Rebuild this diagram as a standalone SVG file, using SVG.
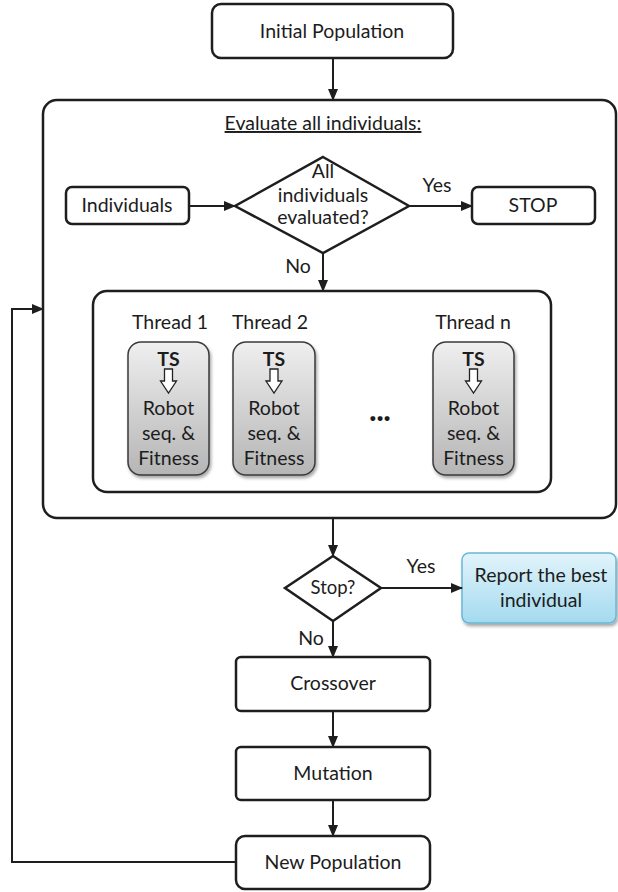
<svg xmlns="http://www.w3.org/2000/svg" width="618" height="892" viewBox="0 0 618 892">
<style>
  .box { fill: #ffffff; stroke: #1e1e1e; stroke-width: 2.5; }
  .t { font-family: Lato, "Open Sans", sans-serif; font-size: 19.5px; fill: #1c1c1c; text-anchor: middle; }
  .b { font-weight: bold; }
  .dots { font-size: 30px; font-weight: 900; }
  .small { font-size: 18.5px; }
  .conn { fill: none; stroke: #1e1e1e; stroke-width: 2; }
  .card { fill: url(#gray); stroke: #3a3a3a; stroke-width: 1.5; filter: url(#shadow); }
  .hollow { fill: #ffffff; stroke: #222222; stroke-width: 1.3; stroke-linejoin: miter; }
</style>
<defs>
  <marker id="ah" markerUnits="userSpaceOnUse" markerWidth="12" markerHeight="10" refX="11" refY="5" orient="auto">
    <path d="M0,0 L12,5 L0,10 Z" fill="#1e1e1e"/>
  </marker>
  <linearGradient id="gray" x1="0" y1="0" x2="0" y2="1">
    <stop offset="0" stop-color="#efefef"/>
    <stop offset="1" stop-color="#b5b5b5"/>
  </linearGradient>
  <linearGradient id="blue" x1="0" y1="0" x2="0" y2="1">
    <stop offset="0" stop-color="#e2f4fb"/>
    <stop offset="1" stop-color="#a3daef"/>
  </linearGradient>
  <filter id="shadow" x="-20%" y="-20%" width="150%" height="150%">
    <feDropShadow dx="1.5" dy="2.5" stdDeviation="1.8" flood-color="#000000" flood-opacity="0.35"/>
  </filter>
</defs>

<g id="initial-population">
  <rect class="box" x="212" y="4" width="241" height="54" rx="9"/>
  <text class="t" x="332" y="38">Initial Population</text>
</g>

<g id="evaluate-all">
  <rect class="box" x="43" y="100" width="573" height="418" rx="14"/>
  <text class="t" x="323" y="130" text-decoration="underline">Evaluate all individuals:</text>
</g>

<g id="individuals">
  <rect class="box" x="66" y="187" width="123" height="37" rx="6"/>
  <text class="t" x="127" y="212">Individuals</text>
</g>

<g id="all-evaluated">
  <polygon class="box" points="323,157 409,206 323,253 235,206"/>
  <text class="t" x="323" y="178">All</text>
  <text class="t" x="323" y="202">individuals</text>
  <text class="t" x="323" y="224">evaluated?</text>
</g>

<g id="stop">
  <rect class="box" x="472" y="187" width="123" height="37" rx="6"/>
  <text class="t" x="533" y="212">STOP</text>
</g>

<g id="threads">
  <rect class="box" x="93" y="291" width="458" height="201" rx="14"/>
  <text class="t dots" x="380" y="421">...</text>
</g>

<g id="thread-1">
  <text class="t" x="170" y="329">Thread 1</text>
  <rect class="card" x="128" y="342" width="81" height="133" rx="13"/>
  <text class="t b" x="168.5" y="366">TS</text>
  <path class="hollow" d="M164.5,369 h8 v12 h4 l-8,12 l-8,-12 h4 Z"/>
  <text class="t" x="168.5" y="415">Robot</text>
  <text class="t" x="168.5" y="440">seq. &amp;</text>
  <text class="t" x="168.5" y="465">Fitness</text>
</g>

<g id="thread-2">
  <text class="t" x="270" y="329">Thread 2</text>
  <rect class="card" x="233" y="342" width="82" height="133" rx="13"/>
  <text class="t b" x="274" y="366">TS</text>
  <path class="hollow" d="M270,369 h8 v12 h4 l-8,12 l-8,-12 h4 Z"/>
  <text class="t" x="274" y="415">Robot</text>
  <text class="t" x="274" y="440">seq. &amp;</text>
  <text class="t" x="274" y="465">Fitness</text>
</g>

<g id="thread-n">
  <text class="t" x="473" y="329">Thread n</text>
  <rect class="card" x="433" y="342" width="81" height="133" rx="13"/>
  <text class="t b" x="473.5" y="366">TS</text>
  <path class="hollow" d="M469.5,369 h8 v12 h4 l-8,12 l-8,-12 h4 Z"/>
  <text class="t" x="473.5" y="415">Robot</text>
  <text class="t" x="473.5" y="440">seq. &amp;</text>
  <text class="t" x="473.5" y="465">Fitness</text>
</g>

<g id="stop-decision">
  <polygon class="box" points="333,556 381,588 333,621 285,588"/>
  <text class="t small" x="333" y="594">Stop?</text>
</g>

<g id="report">
  <rect x="462" y="553" width="154" height="70" rx="7" fill="url(#blue)" stroke="#6bb7d6" stroke-width="1.5" filter="url(#shadow)"/>
  <text class="t" x="541" y="582">Report the best</text>
  <text class="t" x="541" y="607">individual</text>
</g>

<g id="crossover">
  <rect class="box" x="236" y="657" width="194" height="54" rx="5"/>
  <text class="t" x="333" y="690">Crossover</text>
</g>

<g id="mutation">
  <rect class="box" x="236" y="747" width="194" height="53" rx="5"/>
  <text class="t" x="333" y="780">Mutation</text>
</g>

<g id="new-population">
  <rect class="box" x="236" y="836" width="194" height="53" rx="9"/>
  <text class="t" x="333" y="869">New Population</text>
</g>

<g id="connectors">
  <line class="conn" x1="333" y1="58" x2="333" y2="100" marker-end="url(#ah)"/>
  <line class="conn" x1="189" y1="206" x2="235" y2="206" marker-end="url(#ah)"/>
  <line class="conn" x1="409" y1="206" x2="472" y2="206" marker-end="url(#ah)"/>
  <line class="conn" x1="323" y1="253" x2="323" y2="291" marker-end="url(#ah)"/>
  <line class="conn" x1="333" y1="518" x2="333" y2="556" marker-end="url(#ah)"/>
  <line class="conn" x1="381" y1="588" x2="462" y2="588" marker-end="url(#ah)"/>
  <line class="conn" x1="333" y1="621" x2="333" y2="657" marker-end="url(#ah)"/>
  <line class="conn" x1="333" y1="711" x2="333" y2="747" marker-end="url(#ah)"/>
  <line class="conn" x1="333" y1="800" x2="333" y2="836" marker-end="url(#ah)"/>
  <polyline class="conn" points="236,862 12,862 12,309 43,309" marker-end="url(#ah)"/>
  <text class="t" x="437" y="192">Yes</text>
  <text class="t" x="298" y="273">No</text>
  <text class="t" x="421" y="573">Yes</text>
  <text class="t" x="311" y="645">No</text>
</g>
</svg>
